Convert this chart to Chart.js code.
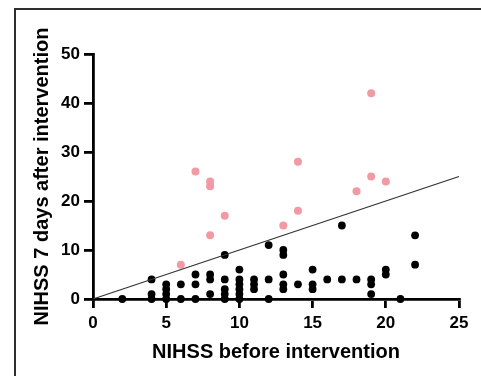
<!DOCTYPE html>
<html>
<head>
<meta charset="utf-8">
<script src="https://cdn.jsdelivr.net/npm/chart.js@4.4.0/dist/chart.umd.min.js"></script>
<style>
  body { margin: 0; background: #fff; }
  #wrap { position: relative; width: 481px; height: 376px; }
  #frame {
    position: absolute; left: 14px; top: 8px; width: 467px; height: 368px;
    border-top: 2px solid #2e2e2e; border-left: 2px solid #2e2e2e;
    box-sizing: border-box; pointer-events: none;
  }
</style>
</head>
<body>
<div id="wrap">
  <canvas id="myChart" width="481" height="376"></canvas>
  <div id="frame"></div>
</div>
<script>
// points below the line y = x
const blackX = [2, 4, 4, 4, 5, 5, 5, 5, 6, 6, 7, 7, 7, 8, 8, 8, 9, 9, 9, 9, 9,
  10, 10, 10, 10, 10, 10, 11, 11, 11, 12, 12, 12, 13, 13, 13, 13, 13, 14,
  15, 15, 15, 16, 17, 17, 18, 19, 19, 19, 20, 20, 21, 22, 22];
const blackY = [0, 4, 1, 0, 3, 2, 1, 0, 3, 0, 5, 3, 0, 5, 4, 1, 9, 4, 2, 1, 0,
  6, 4, 3, 2, 1, 0, 4, 3, 2, 11, 4, 0, 10, 9, 5, 3, 2, 3,
  6, 3, 2, 4, 15, 4, 4, 4, 3, 1, 6, 5, 0, 13, 7];

// points above the line
const pinkX = [6, 7, 8, 8, 8, 9, 13, 14, 14, 18, 19, 19, 20];
const pinkY = [7, 26, 24, 23, 13, 17, 15, 28, 18, 22, 42, 25, 24];

const lineX = [0, 25];
const lineY = [0, 25];

const toPoints = (xs, ys) => xs.map((x, i) => ({ x: x, y: ys[i] }));

const tickFont = { family: 'Liberation Sans, Arial, sans-serif', size: 17, weight: 'bold' };
const titleFont = { family: 'Liberation Sans, Arial, sans-serif', size: 20, weight: 'bold' };

const ctx = document.getElementById('myChart').getContext('2d');

new Chart(ctx, {
  type: 'scatter',
  data: {
    datasets: [
      {
        label: 'line',
        type: 'line',
        data: toPoints(lineX, lineY),
        borderColor: '#333',
        borderWidth: 1.3,
        pointRadius: 0,
        fill: false,
        clip: false,
      },
      {
        label: 'above',
        data: toPoints(pinkX, pinkY),
        backgroundColor: '#f29aa4',
        borderWidth: 0,
        pointRadius: 4,
        clip: false,
      },
      {
        label: 'below',
        data: toPoints(blackX, blackY),
        backgroundColor: '#000',
        borderWidth: 0,
        pointRadius: 3.9,
        clip: false,
      },
    ],
  },
  options: {
    responsive: false,
    animation: false,
    layout: { padding: { left: 0, top: 54, right: 22, bottom: 0 } },
    plugins: {
      legend: { display: false },
      tooltip: { enabled: false },
    },
    scales: {
      x: {
        type: 'linear',
        min: 0,
        max: 25,
        afterFit: (scale) => { scale.height = 77; },
        ticks: { stepSize: 5, color: '#000', font: tickFont, padding: 5, maxRotation: 0 },
        grid: { drawOnChartArea: false, drawTicks: true, tickLength: 9, color: '#000', lineWidth: 2.8 },
        border: { display: true, color: '#000', width: 2.8 },
        title: {
          display: true,
          text: 'NIHSS before intervention',
          color: '#000',
          font: titleFont,
          padding: { top: 0, bottom: 12 },
        },
      },
      y: {
        type: 'linear',
        min: 0,
        max: 50,
        afterFit: (scale) => { scale.width = 93; },
        ticks: { stepSize: 10, color: '#000', font: tickFont, padding: 4 },
        grid: { drawOnChartArea: false, drawTicks: true, tickLength: 9, color: '#000', lineWidth: 2.8 },
        border: { display: true, color: '#000', width: 2.8 },
        title: {
          display: true,
          text: 'NIHSS 7 days after intervention',
          color: '#000',
          font: titleFont,
          padding: { top: 30, bottom: 0 },
        },
      },
    },
  },
});
</script>
</body>
</html>
